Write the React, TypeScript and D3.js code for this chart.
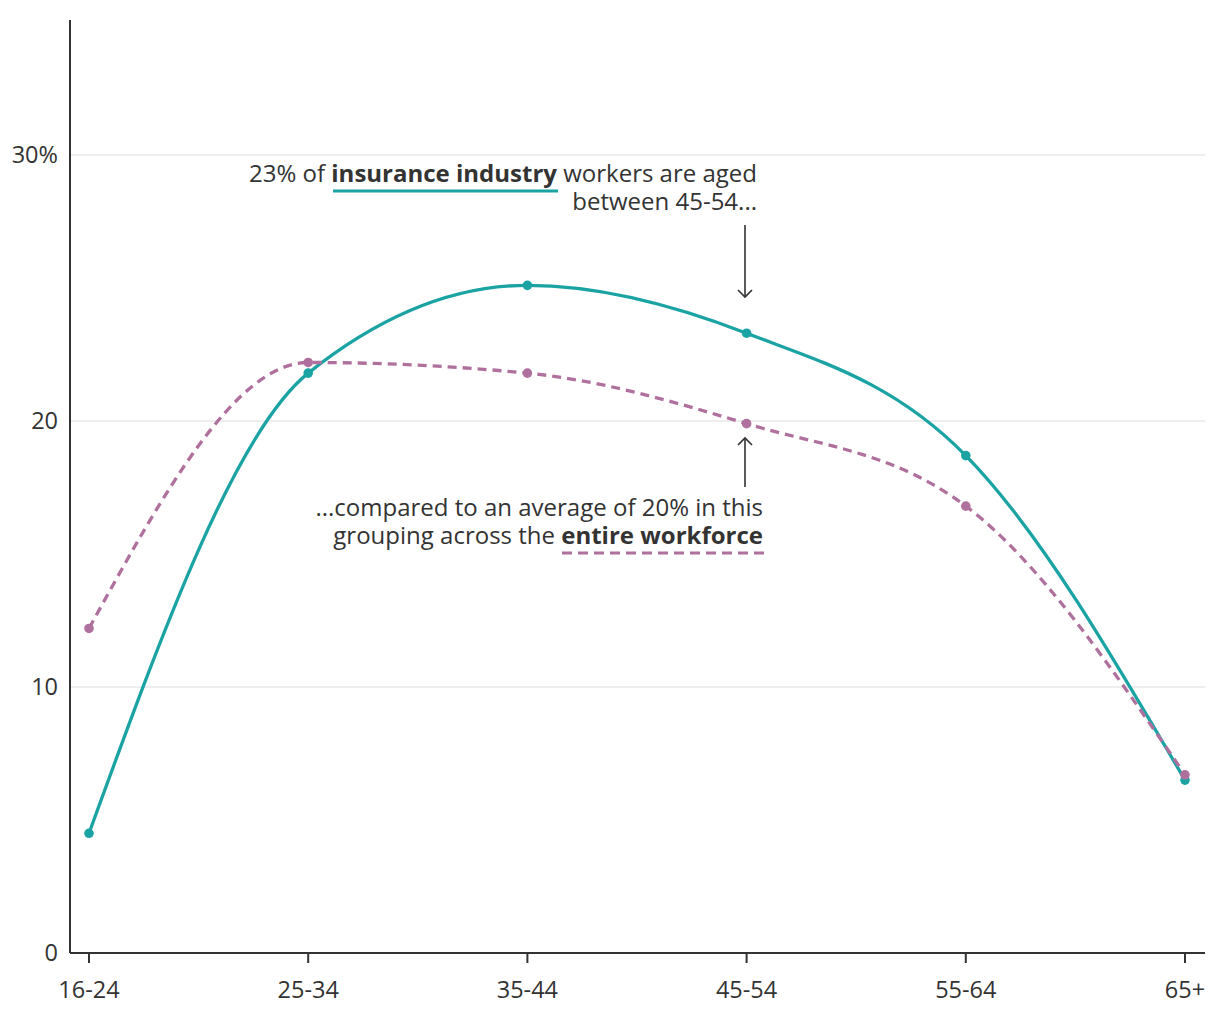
import React from "react";
import * as d3 from "d3";

const categories = ["16-24", "25-34", "35-44", "45-54", "55-64", "65+"];
const insurance = [4.5, 21.8, 25.1, 23.3, 18.7, 6.5];
const workforce = [12.2, 22.2, 21.8, 19.9, 16.8, 6.7];
const yTicks = [0, 10, 20, 30];

const W = 1220;
const H = 1020;
const TEAL = "#1ba3a3";
const PURPLE = "#b0709d";
const TEXT = "#333333";
const FONT = "'Open Sans', 'Noto Sans', sans-serif";

export default function App() {
  const x = d3.scalePoint<string>().domain(categories).range([89, 1185]);
  const y = d3.scaleLinear().domain([0, 35]).range([953, 22]);

  const line = d3
    .line<number>()
    .x((_, i) => x(categories[i]) as number)
    .y((d) => y(d))
    .curve(d3.curveMonotoneX);

  const left = 70;
  const right = 1205;
  const ax = 745;

  return (
    <svg width={W} height={H} style={{ position: "absolute", left: 0, top: 0 }} fontFamily={FONT}>
      {yTicks.filter((t) => t > 0).map((t) => (
        <line key={t} x1={left} x2={right} y1={y(t)} y2={y(t)} stroke="#e8e8e8" strokeWidth={1.5} />
      ))}
      {yTicks.map((t) => (
        <text key={t} x={58} y={y(t)} dy="0.35em" textAnchor="end" fontSize={23.5} fill={TEXT}>
          {t === 30 ? "30%" : String(t)}
        </text>
      ))}
      <line x1={left} x2={left} y1={20} y2={y(0)} stroke={TEXT} strokeWidth={2} />
      <line x1={left} x2={right} y1={y(0)} y2={y(0)} stroke={TEXT} strokeWidth={2} />
      {categories.map((c) => (
        <g key={c}>
          <line x1={x(c)} x2={x(c)} y1={y(0)} y2={y(0) + 10} stroke={TEXT} strokeWidth={2} />
          <text x={x(c)} y={998} textAnchor="middle" fontSize={23.5} fill={TEXT}>
            {c}
          </text>
        </g>
      ))}
      <path d={line(insurance) || ""} fill="none" stroke={TEAL} strokeWidth={3.3} />
      {insurance.map((v, i) => (
        <circle key={"i" + i} cx={x(categories[i])} cy={y(v)} r={4.8} fill={TEAL} />
      ))}
      <path d={line(workforce) || ""} fill="none" stroke={PURPLE} strokeWidth={3.3} strokeDasharray="9,6" />
      {workforce.map((v, i) => (
        <circle key={"w" + i} cx={x(categories[i])} cy={y(v)} r={4.8} fill={PURPLE} />
      ))}

      <g fontSize={24} fill={TEXT}>
        <text x={757} y={182} textAnchor="end">
          23% of <tspan fontWeight="bold">insurance industry</tspan> workers are aged
        </text>
        <text x={757} y={210} textAnchor="end">between 45-54...</text>
        <line x1={333} x2={558} y1={191} y2={191} stroke={TEAL} strokeWidth={3} />
        <line x1={ax} x2={ax} y1={225} y2={297} stroke={TEXT} strokeWidth={1.6} />
        <path d={`M${ax - 7},${290} L${ax},${297} L${ax + 7},${290}`} fill="none" stroke={TEXT} strokeWidth={1.6} />

        <text x={763} y={516} textAnchor="end">...compared to an average of 20% in this</text>
        <text x={763} y={544} textAnchor="end">
          grouping across the <tspan fontWeight="bold">entire workforce</tspan>
        </text>
        <line x1={562} x2={764} y1={553} y2={553} stroke={PURPLE} strokeWidth={3} strokeDasharray="10,6" />
        <line x1={ax} x2={ax} y1={487} y2={438} stroke={TEXT} strokeWidth={1.6} />
        <path d={`M${ax - 7},${445} L${ax},${438} L${ax + 7},${445}`} fill="none" stroke={TEXT} strokeWidth={1.6} />
      </g>
    </svg>
  );
}
